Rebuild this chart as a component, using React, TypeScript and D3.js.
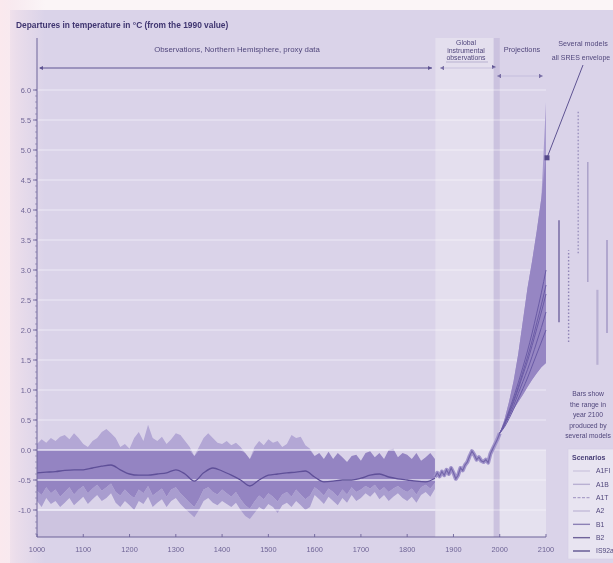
import React from 'react';
import * as d3 from 'd3';

// ---------- data ----------
const proxyYears = d3.range(1000, 1861, 10);
const proxyTop = [
  0.10, 0.18, 0.12, 0.20, 0.15, 0.22, 0.25, 0.18, 0.28, 0.20,
  0.10, 0.05, 0.15, 0.20, 0.30, 0.35, 0.28, 0.20, 0.05, 0.10,
  0.02, 0.20, 0.30, 0.15, 0.42, 0.20, 0.15, 0.22, 0.10, 0.18,
  0.28, 0.25, 0.15, 0.05, -0.10, 0.05, 0.20, 0.28, 0.20, 0.12,
  0.10, 0.15, 0.08, 0.12, 0.05, -0.05, -0.15, 0.05, 0.15, 0.08,
  0.18, 0.12, 0.15, 0.05, 0.10, 0.25, 0.20, 0.22, 0.08, 0.02,
  -0.10, -0.05, -0.15, -0.03, -0.15, -0.05, -0.12, -0.20, -0.10, -0.08,
  -0.18, -0.05, -0.02, -0.12, -0.05, -0.15, 0.00, 0.02, -0.12, -0.05,
  -0.08, -0.15, -0.05, -0.18, -0.12, -0.05, -0.15,
];
const proxyCoreBottom = [
  -0.68, -0.75, -0.62, -0.72, -0.66, -0.78, -0.70, -0.62, -0.74, -0.66,
  -0.60, -0.72, -0.64, -0.58, -0.68, -0.62, -0.56, -0.70, -0.76, -0.66,
  -0.74, -0.80, -0.66, -0.72, -0.60, -0.76, -0.70, -0.64, -0.78, -0.66,
  -0.62, -0.72, -0.80, -0.88, -0.95, -0.82, -0.66, -0.62, -0.70, -0.74,
  -0.66, -0.72, -0.78, -0.70, -0.82, -0.92, -0.98, -0.86, -0.76, -0.82,
  -0.72, -0.78, -0.86, -0.74, -0.70, -0.78, -0.66, -0.74, -0.82, -0.76,
  -0.62, -0.68, -0.76, -0.64, -0.70, -0.78, -0.66, -0.74, -0.62, -0.70,
  -0.66, -0.60, -0.64, -0.58, -0.68, -0.62, -0.70, -0.64, -0.60, -0.66,
  -0.70, -0.64, -0.74, -0.62, -0.58, -0.64, -0.55,
];
const proxyBottom = [
  -0.85, -0.95, -0.80, -0.90, -0.85, -0.95, -0.88, -0.80, -0.92, -0.85,
  -0.78, -0.90, -0.82, -0.75, -0.85, -0.80, -0.72, -0.88, -0.95, -0.85,
  -0.92, -1.00, -0.85, -0.90, -0.78, -0.95, -0.88, -0.82, -0.95, -0.85,
  -0.80, -0.90, -0.98, -1.05, -1.12, -1.00, -0.85, -0.80, -0.88, -0.92,
  -0.85, -0.90, -0.95, -0.88, -1.00, -1.10, -1.15, -1.05, -0.95, -1.00,
  -0.90, -0.95, -1.05, -0.92, -0.88, -0.95, -0.85, -0.92, -1.00, -0.95,
  -0.75, -0.82, -0.90, -0.78, -0.85, -0.92, -0.80, -0.88, -0.75, -0.85,
  -0.80, -0.72, -0.78, -0.70, -0.82, -0.75, -0.85, -0.78, -0.72, -0.80,
  -0.85, -0.78, -0.88, -0.75, -0.70, -0.78, -0.65,
];
const smoothYears = d3.range(1000, 1861, 20);
const smoothValues = [
  -0.38, -0.37, -0.36, -0.34, -0.33, -0.33, -0.30, -0.27, -0.25, -0.33,
  -0.40, -0.42, -0.42, -0.40, -0.38, -0.33, -0.40, -0.52, -0.38, -0.30,
  -0.35, -0.42, -0.50, -0.60, -0.50, -0.42, -0.40, -0.38, -0.37, -0.35,
  -0.45, -0.53, -0.52, -0.50, -0.50, -0.47, -0.42, -0.40, -0.45, -0.48,
  -0.50, -0.52, -0.53, -0.47,
];
const instrYears = d3.range(1860, 2001, 5);
const instrValues = [
  -0.45, -0.38, -0.44, -0.36, -0.42, -0.33, -0.40, -0.30, -0.38, -0.48,
  -0.42, -0.30, -0.34, -0.25, -0.20, -0.10, -0.02, -0.08, -0.16, -0.12,
  -0.18, -0.20, -0.16, -0.21, -0.06, 0.02, 0.10, 0.18, 0.28,
];
const projYears = d3.range(2000, 2101, 10);
const envOuterUpper = [0.28, 0.5, 0.8, 1.15, 1.6, 2.15, 2.7, 3.15, 3.65, 4.2, 5.8];
const envInnerUpper = [0.28, 0.5, 0.8, 1.15, 1.6, 2.15, 2.7, 3.15, 3.65, 4.2, 4.9];
const envLower = [0.28, 0.42, 0.55, 0.68, 0.8, 0.92, 1.05, 1.17, 1.28, 1.38, 1.45];
const projA = [0.28, 0.45, 0.65, 0.88, 1.12, 1.38, 1.65, 1.95, 2.28, 2.62, 3.0];
const projB = [0.28, 0.43, 0.62, 0.83, 1.05, 1.3, 1.55, 1.82, 2.12, 2.42, 2.75];
const projC = [0.28, 0.42, 0.6, 0.8, 1.02, 1.25, 1.48, 1.74, 2.02, 2.3, 2.6];
const projD = [0.28, 0.4, 0.56, 0.74, 0.94, 1.14, 1.34, 1.56, 1.8, 2.04, 2.3];
const projE = [0.28, 0.38, 0.52, 0.68, 0.85, 1.02, 1.2, 1.4, 1.6, 1.8, 2.0];
const projLines = [projA, projB, projC, projD, projE];

const yTickValues = [6.0, 5.5, 5.0, 4.5, 4.0, 3.5, 3.0, 2.5, 2.0, 1.5, 1.0, 0.5, 0.0, -0.5, -1.0];
const xTickValues = [1000, 1100, 1200, 1300, 1400, 1500, 1600, 1700, 1800, 1900, 2000, 2100];

const barNames = ['A1B', 'A1T', 'A1FI', 'A2', 'B1', 'B2'];
const barLow = [2.13, 1.8, 3.28, 2.8, 1.42, 1.95];
const barHigh = [3.83, 3.33, 5.67, 4.8, 2.67, 3.5];
const barColors = ['#7d71a8', '#8f84b6', '#9a90bd', '#a89ec7', '#b9b0d3', '#a095c3'];
const barDash = ['', '1.5,2', '1.5,2', '', '', ''];
const barWidth = [1.6, 1.4, 1.4, 1.4, 2.2, 1.4];

const legendNames = ['A1FI', 'A1B', 'A1T', 'A2', 'B1', 'B2', 'IS92a'];
const legendColors = ['#cfc8e0', '#b9b0d2', '#aaa0c9', '#c3bbd9', '#8c80b5', '#6f639b', '#5f5390'];
const legendDash = ['', '', '3,1.5', '', '', '', ''];

const barCaption = ['Bars show', 'the range in', 'year 2100', 'produced by', 'several models'];

// ---------- chart ----------
const W = 613;
const H = 563;
const FONT = 'Liberation Sans, Arial, sans-serif';
const TXT = '#51477c';

export default function App() {
  const x = d3.scaleLinear().domain([1000, 2100]).range([37, 546]);
  const y = d3.scaleLinear().domain([-1, 6]).range([510, 90]);
  const axisTop = 38;
  const axisBottom = y(-1.45);

  const coreTop = proxyYears.map((yr, i) => (yr < 1600 ? Math.min(proxyTop[i], 0) : proxyTop[i]));

  const band = (years: number[], lo: number[], hi: number[], curve = d3.curveLinear) =>
    d3
      .area<number>()
      .curve(curve)
      .x((d) => x(d))
      .y0((_, i) => y(lo[i]))
      .y1((_, i) => y(hi[i]))(years) as string;

  const line = (years: number[], vals: number[], curve: d3.CurveFactory = d3.curveLinear) =>
    d3
      .line<number>()
      .curve(curve)
      .x((d) => x(d))
      .y((_, i) => y(vals[i]))(years) as string;

  const barX = d3.scalePoint<string>().domain(barNames).range([559, 607]);
  const legendY = d3.scalePoint<string>().domain(legendNames).range([471, 551]);

  const gridVals = d3.range(-1, 6.01, 0.5);
  const minorTicks = d3.range(-14, 61, 1).map((v) => v / 10);

  const arrowHead = (px: number, py: number, dir: number) =>
    `M${px},${py} L${px - dir * 4},${py - 2} L${px - dir * 4},${py + 2} Z`;

  return (
    <svg
      width={W}
      height={H}
      viewBox={`0 0 ${W} ${H}`}
      style={{ position: 'absolute', left: 0, top: 0, display: 'block' }}
      fontFamily={FONT}
    >
      <defs>
        <linearGradient id="pinkEdge" x1="0" x2="1" y1="0" y2="0">
          <stop offset="0" stopColor="#fbe9ee" stopOpacity="1" />
          <stop offset="0.35" stopColor="#f6e4ec" stopOpacity="0.6" />
          <stop offset="1" stopColor="#f6e4ec" stopOpacity="0" />
        </linearGradient>
        <filter id="soft" x="-2%" y="-2%" width="104%" height="104%">
          <feGaussianBlur stdDeviation="0.55" />
        </filter>
      </defs>
      <rect x={0} y={0} width={W} height={H} fill="#fbf5f7" />
      <rect x={10} y={10} width={W - 10} height={H - 10} fill="#dad3e9" />
      <rect x={0} y={0} width={45} height={H} fill="url(#pinkEdge)" />

      <g filter="url(#soft)">
        {/* background bands */}
        <rect x={x(1000)} y={y(-1)} width={x(1861) - x(1000)} height={axisBottom - y(-1)} fill="#cdc4e0" />
        <rect x={x(1861)} y={axisTop} width={x(1987) - x(1861)} height={axisBottom - axisTop} fill="#e4dfee" />
        <rect x={x(1987)} y={axisTop} width={x(2000) - x(1987)} height={axisBottom - axisTop} fill="#cbc2df" />
        <rect x={x(2000)} y={y(0)} width={x(2100) - x(2000)} height={axisBottom - y(0)} fill="#e5e1ef" />

        {/* gridlines (behind) */}
        {gridVals.map((v) => (
          <line key={'g' + v} x1={x(1000)} x2={x(2100)} y1={y(v)} y2={y(v)} stroke="#ffffff" strokeOpacity={0.5} strokeWidth={1.2} />
        ))}

        {/* proxy reconstruction */}
        <path d={band(proxyYears, coreTop, proxyTop)} fill="#b3a7d5" />
        <path d={band(proxyYears, proxyBottom, proxyCoreBottom)} fill="#a99dcf" />
        <path d={band(proxyYears, proxyCoreBottom, coreTop)} fill="#9484c2" />

        {/* gridlines over proxy */}
        {[0, -0.5, -1].map((v) => (
          <line key={'go' + v} x1={x(1000)} x2={x(1861)} y1={y(v)} y2={y(v)} stroke="#f1eef8" strokeOpacity={0.85} strokeWidth={1.3} />
        ))}

        <path d={line(smoothYears, smoothValues, d3.curveMonotoneX)} fill="none" stroke="#5e4f98" strokeWidth={1.3} />

        {/* instrumental */}
        <path d={line(instrYears, instrValues)} fill="none" stroke="#a194cb" strokeWidth={4} strokeLinejoin="round" />
        <path d={line(instrYears, instrValues)} fill="none" stroke="#7466aa" strokeWidth={1.2} />

        {/* projections */}
        <path d={band(projYears, envLower, envOuterUpper)} fill="#a89bcf" />
        <path d={band(projYears, envLower, envInnerUpper)} fill="#9686c3" />
        {projLines.map((p, i) => (
          <path key={'p' + i} d={line(projYears, p, d3.curveMonotoneX)} fill="none" stroke="#6a5ba6" strokeWidth={1} />
        ))}

        {/* axes */}
        <line x1={x(1000)} x2={x(1000)} y1={axisTop} y2={axisBottom} stroke="#6d6299" strokeWidth={1} />
        <line x1={x(1000)} x2={x(2100)} y1={axisBottom} y2={axisBottom} stroke="#6d6299" strokeWidth={1} />
        {minorTicks.map((v) => (
          <line key={'m' + v} x1={x(1000) - 2} x2={x(1000)} y1={y(v)} y2={y(v)} stroke="#7a6fa3" strokeWidth={0.6} />
        ))}
        {yTickValues.map((v) => (
          <g key={'yt' + v}>
            <line x1={x(1000) - 4} x2={x(1000)} y1={y(v)} y2={y(v)} stroke="#6d6299" strokeWidth={0.9} />
            <text x={31} y={y(v) + 2.6} fontSize={7.4} textAnchor="end" fill="#6f6596">
              {v.toFixed(1)}
            </text>
          </g>
        ))}
        {xTickValues.map((v) => (
          <g key={'xt' + v}>
            <line x1={x(v)} x2={x(v)} y1={axisBottom - 3} y2={axisBottom} stroke="#6d6299" strokeWidth={0.9} />
            <text x={x(v)} y={axisBottom + 15} fontSize={7.4} textAnchor="middle" fill="#6f6596">
              {v}
            </text>
          </g>
        ))}

        {/* title */}
        <text x={16} y={28} fontSize={8.4} fontWeight="bold" fill="#3f3570">
          Departures in temperature in °C (from the 1990 value)
        </text>

        {/* period annotations */}
        <text x={237} y={52} fontSize={7.8} textAnchor="middle" fill={TXT}>
          Observations, Northern Hemisphere, proxy data
        </text>
        <line x1={x(1000) + 3} x2={432} y1={68} y2={68} stroke="#5e5392" strokeWidth={1} />
        <path d={arrowHead(x(1000) + 2, 68, -1)} fill="#5e5392" />
        <path d={arrowHead(432, 68, 1)} fill="#5e5392" />
        <path d={arrowHead(440, 68, -1)} fill="#5e5392" />
        <path d={arrowHead(496, 67, 1)} fill="#5e5392" />
        <line x1={440} x2={495} y1={68} y2={68} stroke="#b7aed3" strokeWidth={0.6} />

        {['Global', 'instrumental', 'observations'].map((t, i) => (
          <text key={t} x={466} y={45 + i * 7.5} fontSize={6.9} textAnchor="middle" fill={TXT}>
            {t}
          </text>
        ))}
        <line x1={446} x2={488} y1={62} y2={62} stroke="#8c82b2" strokeWidth={0.5} />

        <text x={522} y={52} fontSize={7.4} textAnchor="middle" fill={TXT}>
          Projections
        </text>
        <path d={arrowHead(497, 76, -1)} fill="#5e5392" />
        <path d={arrowHead(543, 76, 1)} fill="#5e5392" />
        <line x1={498} x2={542} y1={76} y2={76} stroke="#b7aed3" strokeWidth={0.6} />

        <text x={583} y={46} fontSize={7.2} textAnchor="middle" fill={TXT}>
          Several models
        </text>
        <text x={581} y={60} fontSize={7} textAnchor="middle" fill={TXT}>
          all SRES envelope
        </text>
        <line x1={583} x2={x(2100) + 1} y1={65} y2={y(4.87)} stroke="#5e5392" strokeWidth={1} />
        <rect x={x(2100) - 1.5} y={y(4.87) - 2.5} width={5} height={5} fill="#54488a" />

        {/* model range bars */}
        {barNames.map((n, i) => (
          <line
            key={'b' + n}
            x1={barX(n)}
            x2={barX(n)}
            y1={y(barLow[i])}
            y2={y(barHigh[i])}
            stroke={barColors[i]}
            strokeWidth={barWidth[i]}
            strokeDasharray={barDash[i] || undefined}
          />
        ))}

        {barCaption.map((t, i) => (
          <text key={t} x={588} y={396 + i * 10.5} fontSize={6.8} textAnchor="middle" fill={TXT}>
            {t}
          </text>
        ))}

        {/* legend */}
        <rect x={568} y={449} width={50} height={110} fill="#e8e4f1" stroke="#d3cde4" strokeWidth={0.6} />
        <text x={572} y={460} fontSize={7} fontWeight="bold" fill="#4a4078">
          Scenarios
        </text>
        {legendNames.map((n, i) => (
          <g key={'l' + n}>
            <line
              x1={573}
              x2={590}
              y1={legendY(n)}
              y2={legendY(n)}
              stroke={legendColors[i]}
              strokeWidth={1.4}
              strokeDasharray={legendDash[i] || undefined}
            />
            <text x={596} y={(legendY(n) as number) + 2.4} fontSize={6.8} fill={TXT}>
              {n}
            </text>
          </g>
        ))}
      </g>
    </svg>
  );
}
